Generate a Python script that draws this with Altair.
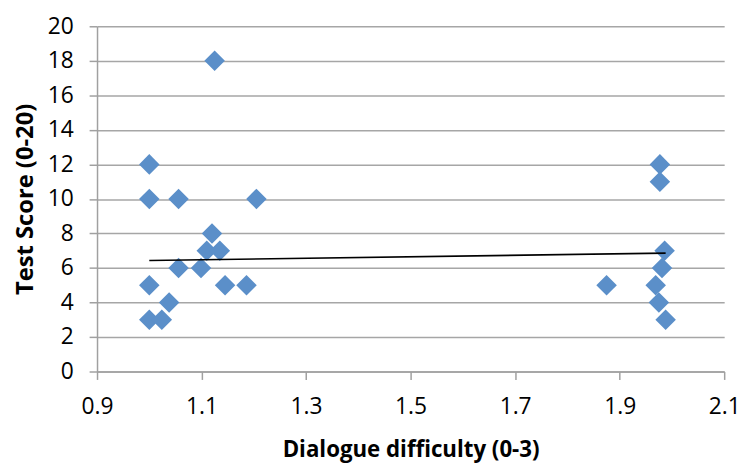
import altair as alt
import pandas as pd

difficulty = [1.0, 1.0, 1.056, 1.205, 1.125, 1.12, 1.11, 1.135, 1.099, 1.056, 1.145, 1.186, 1.0, 1.038, 1.0, 1.024,
              1.977, 1.977, 1.986, 1.981, 1.969, 1.975, 1.988, 1.875]
score = [12, 10, 10, 10, 18, 8, 7, 7, 6, 6, 5, 5, 5, 4, 3, 3,
         12, 11, 7, 6, 5, 4, 3, 5]

trend_x = [1.0, 1.988]
trend_y = [6.43, 6.86]

pts = pd.DataFrame({"x": difficulty, "y": score})
trend = pd.DataFrame({"x": trend_x, "y": trend_y})

FONT = "Open Sans"

xscale = alt.Scale(domain=[0.9, 2.1], nice=False, zero=False)
yscale = alt.Scale(domain=[0, 20], nice=False)

xaxis = alt.Axis(title="Dialogue difficulty (0-3)", values=[0.9, 1.1, 1.3, 1.5, 1.7, 1.9, 2.1],
                 format=".1f", grid=False, tickSize=8, labelPadding=16, titlePadding=21,
                 labelFontSize=23, titleFontSize=22.5, labelFont=FONT, titleFont=FONT,
                 titleFontWeight="bold", domainColor="#A0A0A0", tickColor="#A0A0A0",
                 labelColor="#000000", titleColor="#000000", domainWidth=1.5, tickWidth=1.5,
                 labelOverlap=False, labelFlush=False)
yaxis = alt.Axis(title="Test Score (0-20)", values=list(range(0, 21, 2)),
                 grid=True, gridColor="#A6A6A6", gridWidth=1.5, tickSize=8, labelPadding=16,
                 titlePadding=10, labelFontSize=23, titleFontSize=24, labelFont=FONT, titleFont=FONT,
                 titleFontWeight="bold", domainColor="#A0A0A0", tickColor="#A0A0A0",
                 labelColor="#000000", titleColor="#000000", domainWidth=1.5, tickWidth=1.5,
                 labelOverlap=False, labelFlush=False)

points = alt.Chart(pts).mark_point(shape="diamond", filled=True, size=430, color="#5B8FC9", opacity=1).encode(
    x=alt.X("x:Q", scale=xscale, axis=xaxis),
    y=alt.Y("y:Q", scale=yscale, axis=yaxis),
)

line = alt.Chart(trend).mark_line(color="#000000", strokeWidth=1.6).encode(
    x=alt.X("x:Q", scale=xscale, axis=xaxis),
    y=alt.Y("y:Q", scale=yscale, axis=yaxis),
)

chart = alt.layer(points, line).properties(
    width=634, height=349,
    autosize=alt.AutoSizeParams(type="none"),
    padding={"left": 90, "top": 16, "right": 17, "bottom": 90},
).configure_view(stroke=None)

chart.save("out.html", embed_options={"renderer": "svg", "actions": False})
